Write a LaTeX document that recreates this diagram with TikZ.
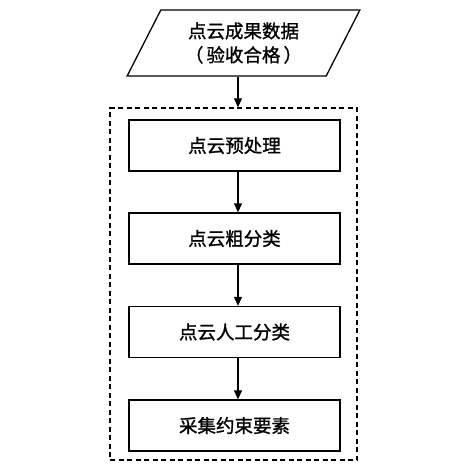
\documentclass[tikz,border=0pt]{standalone}
\usepackage{fontspec}
\newfontfamily\cjk[FakeBold=1.2]{Noto Sans CJK SC}
\usetikzlibrary{shapes.geometric,arrows.meta}
\begin{document}
\begin{tikzpicture}[x=1pt,y=-1pt,
  every node/.style={font=\cjk\fontsize{18.5}{24}\selectfont},
  procbox/.style={draw,line width=1.3pt,minimum width=211pt,minimum height=51pt,inner sep=0pt},
  arr/.style={line width=1.1pt,-{Triangle[length=9pt,width=8pt]}}]
\useasboundingbox (0,0) rectangle (464,472);
\node[draw,line width=1.3pt,trapezium,trapezium left angle=60,trapezium right angle=120,
  trapezium stretches,minimum width=233pt,minimum height=66pt,inner sep=0pt,align=center]
  (src) at (243.5,43) {点云成果数据\\（\,验收合格\,）};
\node[draw,line width=1.3pt,dash pattern=on 5pt off 3.5pt,minimum width=247pt,minimum height=352pt,inner sep=0pt]
  (frame) at (233.5,284) {};
\node[procbox] (b1) at (234.5,145.5) {点云预处理};
\node[procbox] (b2) at (234.5,238.5) {点云粗分类};
\node[procbox] (b3) at (234.5,332) {点云人工分类};
\node[procbox] (b4) at (234.5,425.5) {采集约束要素};
\coordinate (ax) at (238,0);
\draw[arr] (src.south -| ax) -- (frame.north -| ax);
\draw[arr] (b1.south -| ax) -- (b2.north -| ax);
\draw[arr] (b2.south -| ax) -- (b3.north -| ax);
\draw[arr] (b3.south -| ax) -- (b4.north -| ax);
\end{tikzpicture}
\end{document}
